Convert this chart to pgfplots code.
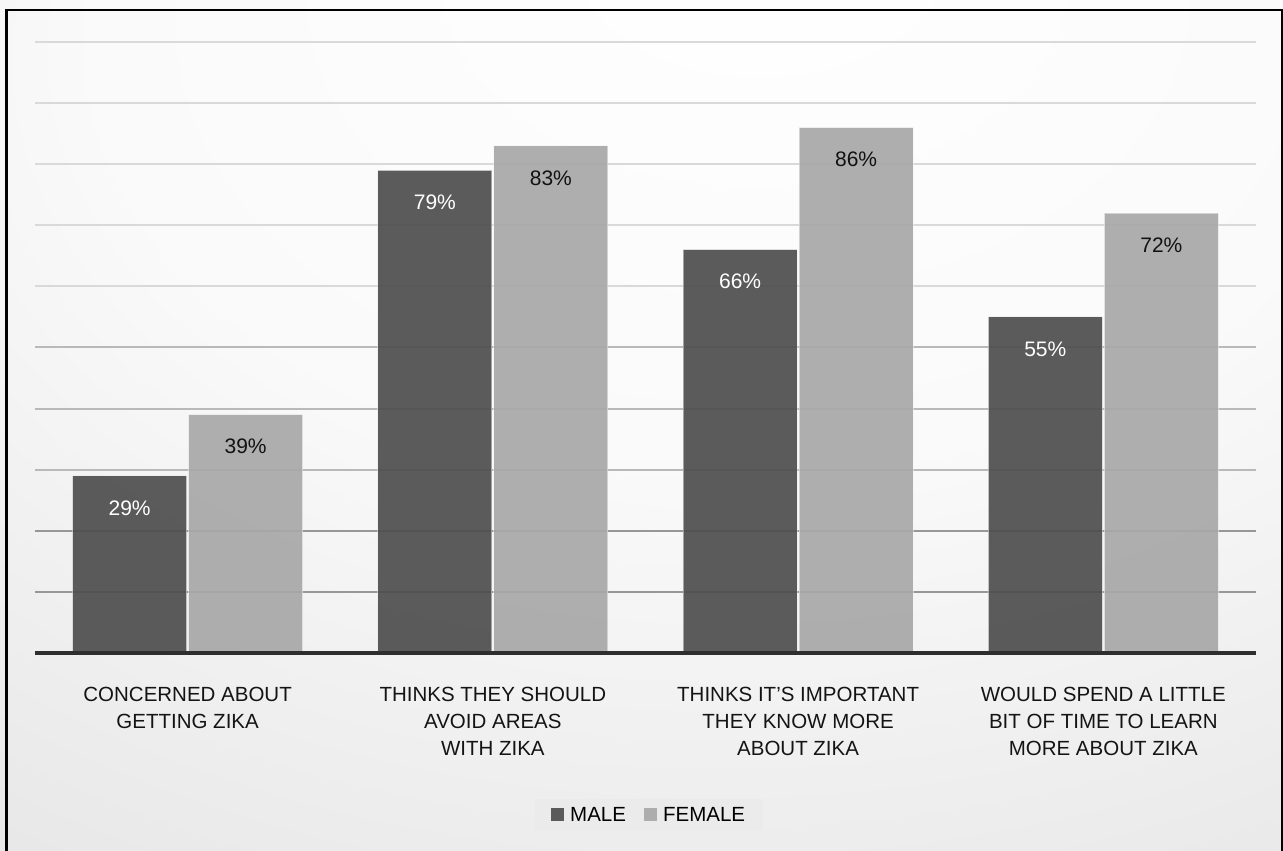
\documentclass[border=0pt]{standalone}
\usepackage{pgfplots}
\pgfplotsset{compat=1.18}
\usepackage{fontspec}
\setmainfont{Liberation Sans}

\definecolor{maleC}{HTML}{4E4E4E}
\definecolor{femaleC}{HTML}{A8A8A8}
\definecolor{gridDark}{HTML}{979797}
\definecolor{gridMid}{HTML}{B9B9B9}
\definecolor{gridLight}{HTML}{D9D9D9}
\definecolor{baseC}{HTML}{2E2E2E}

\pgfdeclareradialshading{bgshade}{\pgfpoint{5bp}{30bp}}{%
  color(0bp)=(white); color(25bp)=(white!98!black); color(55bp)=(white!89!black);
  color(85bp)=(white!80!black); color(100bp)=(white!78!black)}

\begin{document}
\begin{tikzpicture}
\useasboundingbox (0pt,0pt) rectangle (1283pt,851pt);
\shade[shading=bgshade] (0pt,0pt) rectangle (1283pt,851pt);
\draw[line width=2.6pt] (6.2pt,-5pt) -- (6.2pt,840.8pt) -- (1282pt,840.8pt) -- (1282pt,-5pt);

\begin{axis}[
  at={(35pt,198pt)}, anchor=south west,
  scale only axis, width=1221pt, height=611pt,
  clip=false,
  /pgf/number format/assume math mode=true,
  xmin=-0.5, xmax=3.5, ymin=0, ymax=100,
  axis line style={draw=none},
  tick style={draw=none},
  xtick={0,1,2,3},
  xticklabels={{CONCERNED ABOUT\\GETTING ZIKA},{THINKS THEY SHOULD\\AVOID AREAS\\WITH ZIKA},{THINKS IT’S IMPORTANT\\THEY KNOW MORE\\ABOUT ZIKA},{WOULD SPEND A LITTLE\\BIT OF TIME TO LEARN\\MORE ABOUT ZIKA}},
  xticklabel style={align=center, anchor=north, inner sep=0pt, yshift=-30pt,
    font=\fontsize{20.5}{26.7}\selectfont, text=black!92},
  ytick={60,70,80,90,100},
  yticklabels={},
  ymajorgrids,
  major grid style={line width=2pt, draw=gridLight},
  minor ytick={10,20},
  yminorgrids,
  minor grid style={line width=2pt, draw=gridDark},
  extra y ticks={30,40,50},
  extra y tick labels={},
  extra y tick style={grid=major, major grid style={line width=2pt, draw=gridMid}},
  ybar=2pt, bar width=114pt,
  legend style={at={(0.503,-0.265)}, anchor=center, legend columns=2, draw=none,
    fill=white!92!black, inner xsep=16pt, inner ysep=6pt,
    font=\fontsize{20.5}{24}\selectfont,
    /tikz/every odd column/.append style={column sep=4pt},
    /tikz/every even column/.append style={column sep=16pt}},
  legend image code/.code={\fill[#1,draw=none] (0pt,-6.5pt) rectangle (13pt,6.5pt);},
]
\addplot[fill=maleC, fill opacity=0.92, draw=white, draw opacity=0.45, line width=1pt,
  nodes near coords={\pgfmathprintnumber{\pgfplotspointmeta}\%},
  every node near coord/.append style={anchor=center, yshift=-32pt, text=white, text opacity=1,
    font=\fontsize{21}{24}\selectfont}]
  coordinates {(0,29) (1,79) (2,66) (3,55)};
\addlegendentry{MALE}
\addplot[fill=femaleC, fill opacity=0.92, draw=white, draw opacity=0.45, line width=1pt,
  nodes near coords={\pgfmathprintnumber{\pgfplotspointmeta}\%},
  every node near coord/.append style={anchor=center, yshift=-32pt, text=black!93, text opacity=1,
    font=\fontsize{21}{24}\selectfont}]
  coordinates {(0,39) (1,83) (2,86) (3,72)};
\addlegendentry{FEMALE}
\draw[line width=4.8pt, draw=baseC] (rel axis cs:0,0) -- (rel axis cs:1,0);
\end{axis}
\end{tikzpicture}
\end{document}
